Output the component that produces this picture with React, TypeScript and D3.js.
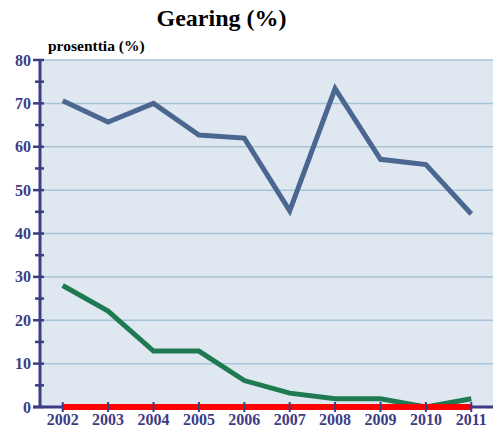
import React from "react";
import * as d3 from "d3";

const years = ["2002","2003","2004","2005","2006","2007","2008","2009","2010","2011"];
const seriesBlue = [70.6, 65.7, 70.0, 62.7, 62.0, 45.2, 73.4, 57.1, 55.9, 44.5];
const seriesGreen = [28.0, 22.1, 12.9, 12.9, 6.1, 3.2, 1.9, 1.9, 0.0, 1.9];
const seriesRed = [0, 0, 0, 0, 0, 0, 0, 0, 0, 0];
const yMajorTicks = [0, 10, 20, 30, 40, 50, 60, 70, 80];
const yMinorTicks = [5, 15, 25, 35, 45, 55, 65, 75];

const W = 496, H = 430;
const left = 40, right = 494, top = 60, bottom = 407;
const axisColor = "#3d3d85";
const font = "'Liberation Serif', 'Times New Roman', serif";

export default function App() {
  const x = d3.scaleBand<string>().domain(years).range([left, right]).paddingInner(0).paddingOuter(0);
  const cx = (d: string) => (x(d) as number) + x.bandwidth() / 2;
  const y = d3.scaleLinear().domain([0, 80]).range([bottom, top]);
  const line = d3.line<number>().x((_, i) => cx(years[i])).y((v) => y(v));

  return (
    <svg width={W} height={H} style={{ position: "absolute", left: 0, top: 0 }} fontFamily={font}>
      <rect x={0} y={0} width={W} height={H} fill="#ffffff" />
      <text x={221.5} y={26} textAnchor="middle" fontSize={24} fontWeight="bold" fill="#000">Gearing (%)</text>
      <text x={48} y={51} fontSize={15.5} fontWeight="bold" fill="#000">prosenttia (%)</text>
      <rect x={left} y={top} width={right - left - 1} height={bottom - top} fill="#dfe8f0" />
      {yMajorTicks.filter((t) => t > 0).map((t) => (
        <line key={"g" + t} x1={left} x2={right - 1} y1={y(t)} y2={y(t)} stroke="#a9c3d6" strokeWidth={1.5} />
      ))}
      {/* y axis */}
      <line x1={left} x2={left} y1={top} y2={bottom} stroke={axisColor} strokeWidth={3} />
      {yMajorTicks.map((t) => (
        <g key={"t" + t}>
          <line x1={left - 7} x2={left + 4} y1={y(t)} y2={y(t)} stroke={axisColor} strokeWidth={2.5} />
          <text x={31} y={y(t) + 5.5} textAnchor="end" fontSize={16} fontWeight="bold" fill={axisColor}>{t}</text>
        </g>
      ))}
      {yMinorTicks.map((t) => (
        <line key={"m" + t} x1={left - 5} x2={left + 4} y1={y(t)} y2={y(t)} stroke={axisColor} strokeWidth={2.5} />
      ))}
      {/* x axis */}
      <line x1={left - 7} x2={right - 1} y1={bottom} y2={bottom} stroke={axisColor} strokeWidth={3} />
      {years.map((yr) => (
        <g key={yr}>
          <text x={cx(yr)} y={424.5} textAnchor="middle" fontSize={16} fontWeight="bold" fill={axisColor}>{yr}</text>
        </g>
      ))}
      <path d={line(seriesBlue) as string} fill="none" stroke="#4b6690" strokeWidth={5} />
      <path d={line(seriesGreen) as string} fill="none" stroke="#1f7a52" strokeWidth={5} />
      <path d={line(seriesRed) as string} fill="none" stroke="#ff0000" strokeWidth={6} />
      {years.map((yr) => (
        <line key={"o" + yr} x1={cx(yr)} x2={cx(yr)} y1={bottom - 5} y2={bottom + 5} stroke={axisColor} strokeWidth={2} />
      ))}
    </svg>
  );
}
